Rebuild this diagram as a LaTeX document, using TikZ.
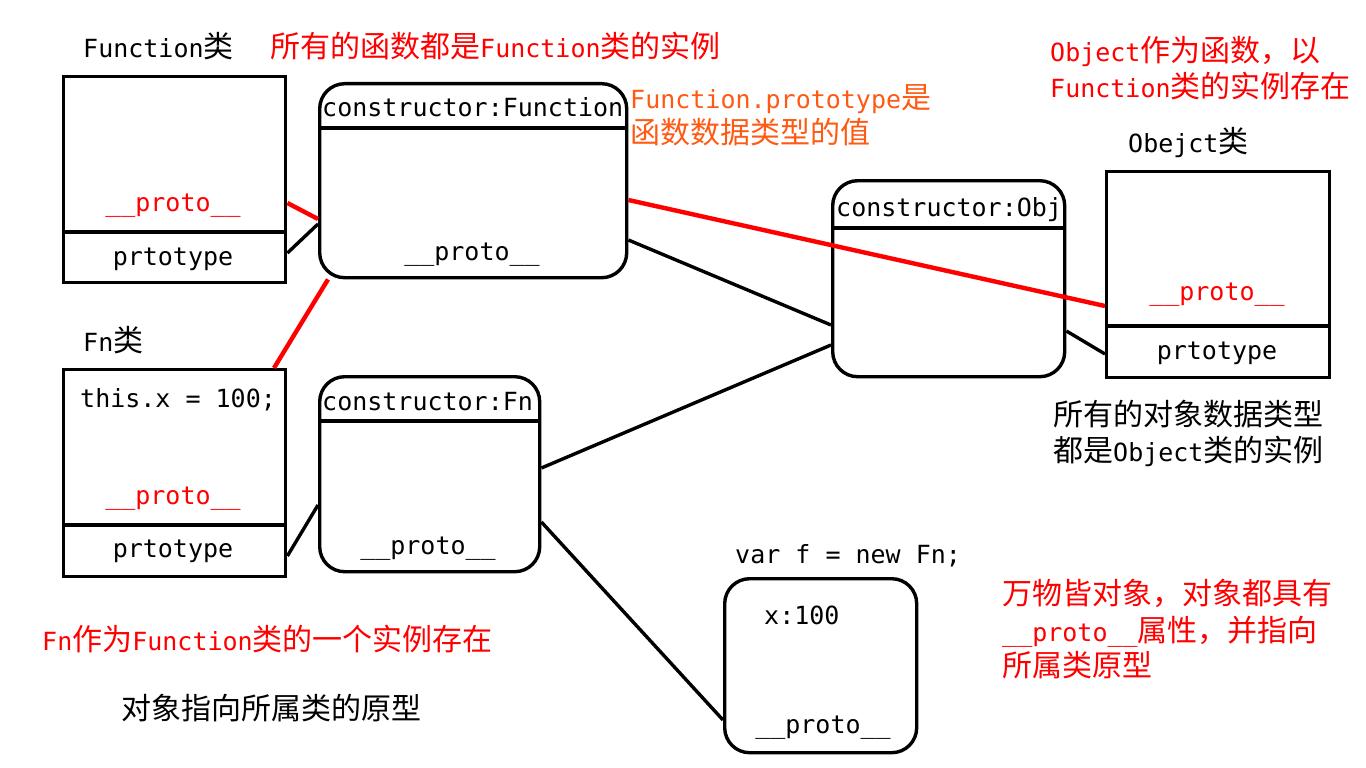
\documentclass[tikz,border=0pt]{standalone}
\usepackage{fontspec}
\setmainfont{DejaVu Sans Mono}
\newfontfamily\cjkf{Noto Sans CJK SC}
\newcommand\zhs[1]{{\cjkf\fontsize{30}{36}\selectfont #1}}
\definecolor{annred}{RGB}{255,0,0}
\definecolor{annorange}{RGB}{255,90,20}
\tikzset{
  txt/.style={inner sep=0pt, anchor=base west, font=\fontsize{25}{36}\selectfont},
  ctxt/.style={inner sep=0pt, anchor=base, font=\fontsize{25}{36}\selectfont},
  clsbox/.style={draw, line width=3.4pt, rectangle, anchor=north west, inner sep=0pt},
  protobox/.style={draw, line width=3.4pt, rectangle, rounded corners=25pt, anchor=north west, inner sep=0pt},
  divider/.style={line width=3.4pt},
  blink/.style={line width=3.4pt, black},
  rlink/.style={line width=4.4pt, annred},
}
\begin{document}
\begin{tikzpicture}[x=1pt,y=-1pt]
\useasboundingbox (0,0) rectangle (1366,768);
\fill[white] (0,0) rectangle (1366,768);

% boxes
\node[clsbox, minimum width=222pt, minimum height=206pt] (fcls) at (62,75) {};
\node[protobox, minimum width=307pt, minimum height=194pt] (fproto) at (318,82) {};
\node[protobox, minimum width=232pt, minimum height=196pt] (objproto) at (831,179) {};
\node[clsbox, minimum width=223pt, minimum height=206pt] (ocls) at (1105,170) {};
\node[clsbox, minimum width=222pt, minimum height=207pt] (fncls) at (62,368) {};
\node[protobox, minimum width=220pt, minimum height=195pt] (fnproto) at (318,375) {};
\node[protobox, minimum width=192pt, minimum height=174pt] (fobj) at (723,577) {};

% dividers
\draw[divider] (fcls.west |- 0,232) -- (fcls.east |- 0,232);
\draw[divider] (fproto.west |- 0,128) -- (fproto.east |- 0,128);
\draw[divider] (objproto.west |- 0,228) -- (objproto.east |- 0,228);
\draw[divider] (ocls.west |- 0,326) -- (ocls.east |- 0,326);
\draw[divider] (fncls.west |- 0,525) -- (fncls.east |- 0,525);
\draw[divider] (fnproto.west |- 0,421) -- (fnproto.east |- 0,421);

% box texts
\node[ctxt, annred] (fclsproto) at (173,211) {\_\_proto\_\_};
\node[ctxt] (fclsprot) at (173,265) {prtotype};
\node[txt] (fprotohead) at (322,116) {constructor:Function};
\node[ctxt] (fprotoproto) at (472,260) {\_\_proto\_\_};
\node[txt] (objhead) at (836,216) {constructor:Obj};
\node[ctxt, annred] (oclsproto) at (1217,300) {\_\_proto\_\_};
\node[ctxt] (oclsprot) at (1217,359) {prtotype};
\node[txt] (fnbody) at (80,407) {this.x = 100;};
\node[ctxt, annred] (fnclsproto) at (173,504) {\_\_proto\_\_};
\node[ctxt] (fnclsprot) at (173,557) {prtotype};
\node[txt] (fnhead) at (322,410) {constructor:Fn};
\node[ctxt] (fnprotoproto) at (428,554) {\_\_proto\_\_};
\node[txt] (fobjx) at (764,624) {x:100};
\node[ctxt] (fobjproto) at (823,733) {\_\_proto\_\_};

% labels
\node[txt] (lfcls) at (83,58) {Function\zhs{类}};
\node[txt, annred] (l1) at (270,58) {\zhs{所有的函数都是}Function\zhs{类的实例}};
\node[txt, annorange] (l2a) at (630,109) {Function.prototype\zhs{是}};
\node[txt, annorange] (l2b) at (630,143) {\zhs{函数数据类型的值}};
\node[txt, annred] (l3a) at (1050,62) {Object\zhs{作为函数，以}};
\node[txt, annred] (l3b) at (1050,98) {Function\zhs{类的实例存在}};
\node[txt] (locls) at (1128,152) {Obejct\zhs{类}};
\node[txt] (l4a) at (1053,425) {\zhs{所有的对象数据类型}};
\node[txt] (l4b) at (1053,461) {\zhs{都是}Object\zhs{类的实例}};
\node[txt] (lfncls) at (83,351) {Fn\zhs{类}};
\node[txt] (lvar) at (735,563) {var f = new Fn;};
\node[txt, annred] (l5a) at (1002,604) {\zhs{万物皆对象，对象都具有}};
\node[txt, annred] (l5b) at (1002,641) {\_\_proto\_\_\zhs{属性，并指向}};
\node[txt, annred] (l5c) at (1002,676) {\zhs{所属类原型}};
\node[txt, annred] (l6) at (42,650) {Fn\zhs{作为}Function\zhs{类的一个实例存在}};
\node[txt] (l7) at (121,719) {\zhs{对象指向所属类的原型}};

% connectors
\draw[rlink] (fcls.east |- 0,203) -- (fproto.west |- 0,219);
\draw[blink] (fcls.east |- 0,253) -- (fproto.west |- 0,224);
\draw[rlink] (fncls.north -| 274,0) -- (fproto.south -| 328,0);
\draw[rlink] (fproto.east |- 0,200) -- (ocls.west |- 0,306);
\draw[blink] (fproto.east |- 0,240) -- (objproto.west |- 0,325);
\draw[blink] (objproto.east |- 0,331) -- (ocls.west |- 0,354);
\draw[blink] (fnproto.east |- 0,468) -- (objproto.west |- 0,345);
\draw[blink] (fncls.east |- 0,556) -- (fnproto.west |- 0,505);
\draw[blink] (fnproto.east |- 0,522) -- (fobj.west |- 0,720);
\end{tikzpicture}
\end{document}
